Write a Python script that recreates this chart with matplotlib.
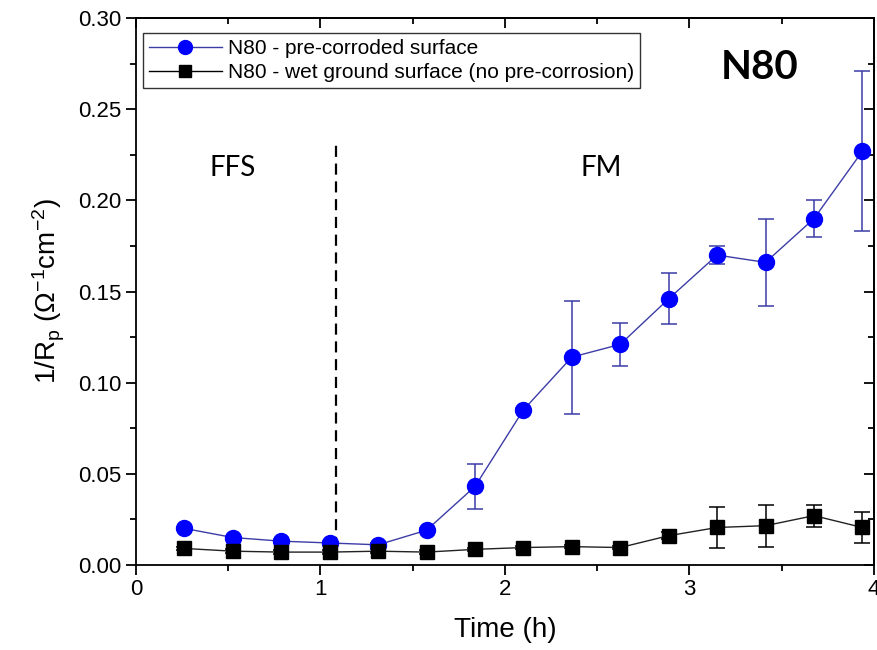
import matplotlib
matplotlib.use("Agg")
import matplotlib.pyplot as plt
from matplotlib.lines import Line2D
from matplotlib.ticker import MultipleLocator

# Measurement times (h)
time_h = [0.2625, 0.525, 0.7875, 1.05, 1.3125, 1.575, 1.8375, 2.1,
          2.3625, 2.625, 2.8875, 3.15, 3.4125, 3.675, 3.9375]

# 1/Rp for the pre-corroded surface and its scatter
pre_corroded = [0.020, 0.015, 0.013, 0.012, 0.011, 0.019, 0.043, 0.085,
                0.114, 0.121, 0.146, 0.170, 0.166, 0.190, 0.227]
pre_corroded_err = [0.001, 0.001, 0.001, 0.001, 0.001, 0.001, 0.0125, 0.001,
                    0.031, 0.012, 0.014, 0.005, 0.024, 0.010, 0.044]

# 1/Rp for the wet-ground surface and its scatter
wet_ground = [0.009, 0.0075, 0.007, 0.007, 0.0075, 0.007, 0.0085, 0.0095,
              0.010, 0.0095, 0.016, 0.0205, 0.0215, 0.027, 0.0205]
wet_ground_err = [0.001, 0.001, 0.001, 0.001, 0.001, 0.001, 0.001, 0.001,
                  0.001, 0.001, 0.002, 0.0115, 0.0115, 0.006, 0.0085]

labels = ["N80 - pre-corroded surface",
          "N80 - wet ground surface (no pre-corrosion)"]

# Boundary between the two regimes
transition_h = 1.083

plt.rcParams["font.family"] = ["Liberation Sans", "DejaVu Sans"]
plt.rcParams["mathtext.fontset"] = "custom"
plt.rcParams["mathtext.rm"] = "Liberation Sans"
plt.rcParams["mathtext.it"] = "Liberation Sans:italic"
plt.rcParams["mathtext.default"] = "regular"

fig = plt.figure(figsize=(8.77, 6.5), dpi=100)
ax = fig.add_axes([0.155, 0.131, 0.8415, 0.841])

blue_line = "#3c3ca8"
ax.errorbar(time_h, pre_corroded, yerr=pre_corroded_err, fmt="o-",
            color=blue_line, ecolor=blue_line, elinewidth=1.1, capsize=6,
            capthick=1.1, lw=1.0, markersize=11.5, markerfacecolor="#0000ff",
            markeredgecolor="#0000ff", zorder=3)
ax.errorbar(time_h, wet_ground, yerr=wet_ground_err, fmt="s-",
            color="#222222", ecolor="black", elinewidth=1.1, capsize=6,
            capthick=1.1, lw=1.0, markersize=10, markerfacecolor="black",
            markeredgecolor="black", zorder=3)

ax.plot([transition_h, transition_h], [0.009, 0.232], ls=(0, (5, 3)),
        color="black", lw=1.6, zorder=2)

ax.text(0.525, 0.218, "FFS", fontsize=20, family=["Lato", "DejaVu Sans"],
        ha="center", va="center")
ax.text(2.52, 0.218, "FM", fontsize=20, family=["Lato", "DejaVu Sans"],
        ha="center", va="center")
ax.text(3.38, 0.273, "N80", fontsize=29, fontweight="bold",
        family=["Lato", "DejaVu Sans"], ha="center", va="center")

ax.set_xlim(0, 4)
ax.set_ylim(0, 0.30)
ax.xaxis.set_major_locator(MultipleLocator(1))
ax.xaxis.set_minor_locator(MultipleLocator(0.5))
ax.yaxis.set_major_locator(MultipleLocator(0.05))
ax.yaxis.set_minor_locator(MultipleLocator(0.025))
ax.yaxis.set_major_formatter(plt.FormatStrFormatter("%.2f"))

ax.tick_params(which="both", direction="out", labelsize=16, width=1.3,
               top=False, right=False)
ax.tick_params(which="major", length=7)
ax.tick_params(which="minor", length=4)

# Mirror ticks pointing inward on top and right
top = ax.secondary_xaxis("top")
top.xaxis.set_major_locator(MultipleLocator(1))
top.xaxis.set_minor_locator(MultipleLocator(0.5))
top.tick_params(which="both", direction="in", labeltop=False, width=1.3)
top.tick_params(which="major", length=7)
top.tick_params(which="minor", length=4)
right = ax.secondary_yaxis("right")
right.yaxis.set_major_locator(MultipleLocator(0.05))
right.yaxis.set_minor_locator(MultipleLocator(0.025))
right.tick_params(which="both", direction="in", labelright=False, width=1.3)
right.tick_params(which="major", length=7)
right.tick_params(which="minor", length=4)

for sp in ax.spines.values():
    sp.set_linewidth(1.3)
top.spines["top"].set_linewidth(1.3)
right.spines["right"].set_linewidth(1.3)

ax.set_xlabel("Time (h)", fontsize=20, labelpad=12)
ax.set_ylabel(r"1/R$_{\mathregular{p}}$ ($\Omega^{\mathregular{-1}}$cm$^{\mathregular{-2}}$)",
              fontsize=20, labelpad=8)

handles = [
    Line2D([], [], color=blue_line, lw=1.0, marker="o", markersize=10,
           markerfacecolor="#0000ff", markeredgecolor="#0000ff"),
    Line2D([], [], color="black", lw=1.0, marker="s", markersize=8.5,
           markerfacecolor="black", markeredgecolor="black"),
]
leg = ax.legend(handles, labels, loc="upper left",
                bbox_to_anchor=(0.009, 0.973), fontsize=15, frameon=True,
                fancybox=False, edgecolor="black", borderpad=0.3,
                labelspacing=0.22, handlelength=3.5, handletextpad=0.3,
                borderaxespad=0)
leg.get_frame().set_linewidth(1.0)

fig.savefig("out.png", dpi=100)
